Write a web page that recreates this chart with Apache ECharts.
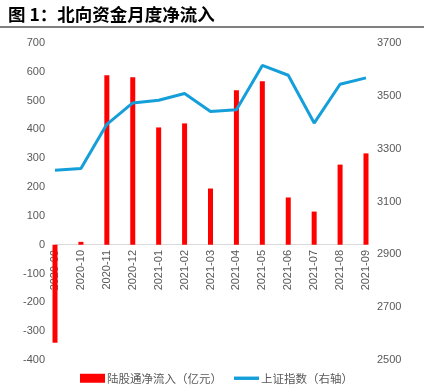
<!DOCTYPE html>
<html>
<head>
<meta charset="utf-8">
<script src="https://cdn.jsdelivr.net/npm/echarts@6/dist/echarts.min.js"></script>
<style>
  html, body { margin: 0; padding: 0; background: #fff; }
  #main { width: 424px; height: 390px; }
</style>
</head>
<body>
<div id="main"></div>
<script>
var months = ['2020-09', '2020-10', '2020-11', '2020-12', '2021-01', '2021-02', '2021-03',
  '2021-04', '2021-05', '2021-06', '2021-07', '2021-08', '2021-09'];
// 陆股通净流入（亿元）
var netInflow = [-340, 10, 588, 581, 407, 421, 195, 536, 567, 164, 115, 278, 317];
// 上证指数
var shIndex = [3218, 3225, 3392, 3473, 3483, 3509, 3441, 3447, 3615, 3578, 3397, 3544, 3568];

var labelColor = '#595959';
var fontFam = 'Arial, "Liberation Sans", "Noto Sans CJK SC", sans-serif';
var cjkFont = '"Noto Sans CJK SC", sans-serif';

var myChart = echarts.init(document.getElementById('main'));
var option = {
  animation: false,
  textStyle: { fontFamily: fontFam },
  title: {
    text: '图 1：北向资金月度净流入',
    left: 3,
    top: 1,
    textStyle: { fontSize: 17.5, fontWeight: 'bold', color: '#000', fontFamily: cjkFont }
  },
  graphic: [{
    type: 'rect',
    shape: { x: 0, y: 26, width: 424, height: 2 },
    style: { fill: '#808080' }
  }],
  grid: { left: 55, right: 58, top: 43, bottom: 30, outerBoundsMode: 'none', containLabel: false },
  legend: {
    bottom: 1,
    left: 75,
    itemGap: 12,
    textStyle: { fontSize: 11.5, color: labelColor, fontFamily: cjkFont, padding: [0, 0, 0, -3] },
    data: [
      { name: '陆股通净流入（亿元）', icon: 'rect' },
      { name: '上证指数（右轴）', icon: 'path://M0,0 L22,0 L22,3 L0,3 Z' }
    ],
    itemWidth: 25,
    itemHeight: 9
  },
  xAxis: {
    type: 'category',
    data: months,
    boundaryGap: false,
    offset: -116,
    axisLine: { onZero: false, lineStyle: { color: '#d9d9d9' } },
    axisTick: { show: false },
    axisLabel: { rotate: 90, fontSize: 11, color: labelColor, margin: 6, interval: 0 }
  },
  yAxis: [{
    type: 'value',
    min: -400,
    max: 700,
    interval: 100,
    splitLine: { show: false },
    axisLine: { show: false },
    axisTick: { show: false },
    axisLabel: { fontSize: 11, color: labelColor, margin: 10, formatter: function (v) { return String(v); } }
  }, {
    type: 'value',
    min: 2500,
    max: 3700,
    interval: 200,
    splitLine: { show: false },
    axisLine: { show: false },
    axisTick: { show: false },
    axisLabel: { fontSize: 11, color: labelColor, margin: 11, formatter: function (v) { return String(v); } }
  }],
  series: [{
    name: '陆股通净流入（亿元）',
    type: 'bar',
    data: netInflow,
    barWidth: 5,
    itemStyle: { color: '#ff0000' }
  }, {
    name: '上证指数（右轴）',
    type: 'line',
    yAxisIndex: 1,
    data: shIndex,
    symbol: 'none',
    lineStyle: { color: '#149fda', width: 3 },
    itemStyle: { color: '#149fda' }
  }]
};
myChart.setOption(option);
</script>
</body>
</html>
